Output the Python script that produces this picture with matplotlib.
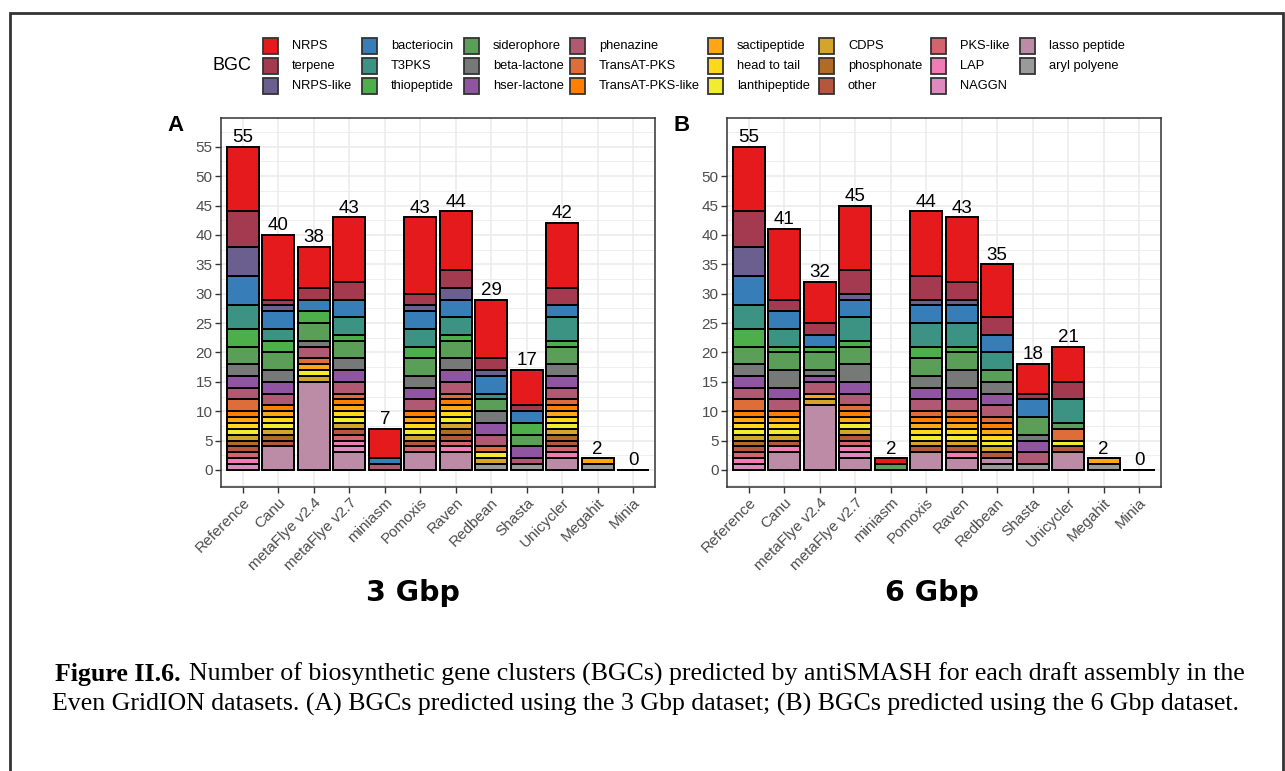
import matplotlib
matplotlib.use("Agg")
import numpy as np
import matplotlib.pyplot as plt
from matplotlib.patches import Rectangle

# figure size in pixels (dpi 100)
W: int = 1285
H: int = 771

ASSEMBLERS = ["Reference", "Canu", "metaFlye v2.4", "metaFlye v2.7", "miniasm",
              "Pomoxis", "Raven", "Redbean", "Shasta", "Unicycler", "Megahit", "Minia"]

# legend order; the first one sits on top of each stack
BGC_TYPES = ["NRPS", "terpene", "NRPS-like", "bacteriocin", "T3PKS", "thiopeptide",
             "siderophore", "beta-lactone", "hser-lactone", "phenazine", "TransAT-PKS",
             "TransAT-PKS-like", "sactipeptide", "head to tail", "lanthipeptide", "CDPS",
             "phosphonate", "other", "PKS-like", "LAP", "NAGGN", "lasso peptide",
             "aryl polyene"]
BGC_COLORS = ["#E41A1C", "#A33A50", "#6A5F8E", "#377EB8", "#3C9383", "#4DAF4A",
              "#5B9E57", "#777979", "#8F55A0", "#B15873", "#DF6D3A",
              "#FF7F00", "#FFA615", "#FFD81A", "#F2EC2E", "#D3A62B",
              "#B06C25", "#B5573F", "#D1646F", "#F17CB5", "#DD8ABE", "#BC8CA6",
              "#9A9A9A"]

# 3 Gbp dataset, one value per assembler
NRPS_3 = [11, 11, 7, 11, 5, 13, 10, 10, 6, 11, 0, 0]
TERPENE_3 = [6, 1, 2, 3, 0, 2, 3, 2, 1, 3, 0, 0]
NRPS_LIKE_3 = [5, 1, 0, 0, 0, 1, 2, 1, 0, 0, 0, 0]
BACTERIOCIN_3 = [5, 3, 2, 3, 1, 3, 3, 3, 2, 2, 0, 0]
T3PKS_3 = [4, 2, 0, 3, 0, 3, 3, 1, 0, 4, 0, 0]
THIOPEPTIDE_3 = [3, 2, 2, 1, 0, 2, 1, 0, 2, 1, 0, 0]
SIDEROPHORE_3 = [3, 3, 3, 3, 0, 3, 3, 2, 2, 3, 0, 0]
BETA_LACTONE_3 = [2, 2, 1, 2, 0, 2, 2, 2, 0, 2, 0, 0]
HSER_LACTONE_3 = [2, 2, 0, 2, 0, 2, 2, 2, 2, 2, 0, 0]
PHENAZINE_3 = [2, 2, 2, 2, 1, 2, 2, 2, 1, 2, 0, 0]
TRANSAT_PKS_3 = [2, 0, 1, 1, 0, 0, 1, 1, 0, 1, 0, 0]
TRANSAT_PKS_LIKE_3 = [1, 1, 0, 1, 0, 1, 1, 0, 0, 1, 0, 0]
SACTIPEPTIDE_3 = [1, 1, 1, 1, 0, 1, 1, 0, 0, 1, 1, 0]
HEAD_TO_TAIL_3 = [1, 1, 0, 1, 0, 1, 1, 0, 0, 1, 0, 0]
LANTHIPEPTIDE_3 = [1, 1, 1, 1, 0, 1, 1, 1, 0, 1, 0, 0]
CDPS_3 = [1, 1, 1, 1, 0, 1, 1, 1, 0, 1, 0, 0]
PHOSPHONATE_3 = [1, 1, 0, 0, 0, 0, 1, 0, 0, 1, 0, 0]
OTHER_3 = [1, 1, 0, 1, 0, 1, 1, 0, 0, 1, 0, 0]
PKS_LIKE_3 = [1, 0, 0, 1, 0, 1, 1, 0, 0, 1, 0, 0]
LAP_3 = [1, 0, 0, 1, 0, 0, 1, 0, 0, 1, 0, 0]
NAGGN_3 = [1, 0, 0, 1, 0, 0, 0, 0, 0, 0, 0, 0]
LASSO_3 = [0, 4, 15, 3, 0, 3, 3, 0, 0, 2, 0, 0]
ARYL_POLYENE_3 = [0, 0, 0, 0, 0, 0, 0, 1, 1, 0, 1, 0]

# 6 Gbp dataset
NRPS_6 = [11, 12, 7, 11, 1, 11, 11, 9, 5, 6, 0, 0]
TERPENE_6 = [6, 2, 2, 4, 0, 4, 3, 3, 1, 3, 0, 0]
NRPS_LIKE_6 = [5, 0, 0, 1, 0, 1, 1, 0, 0, 0, 0, 0]
BACTERIOCIN_6 = [5, 3, 2, 3, 0, 3, 3, 3, 3, 0, 0, 0]
T3PKS_6 = [4, 3, 0, 4, 0, 4, 4, 3, 0, 4, 0, 0]
THIOPEPTIDE_6 = [3, 1, 1, 1, 0, 2, 1, 0, 0, 0, 0, 0]
SIDEROPHORE_6 = [3, 3, 3, 3, 1, 3, 3, 2, 3, 1, 0, 0]
BETA_LACTONE_6 = [2, 3, 1, 3, 0, 2, 3, 2, 1, 0, 0, 0]
HSER_LACTONE_6 = [2, 2, 1, 2, 0, 2, 2, 2, 2, 0, 0, 0]
PHENAZINE_6 = [2, 2, 2, 2, 0, 2, 2, 2, 2, 0, 0, 0]
TRANSAT_PKS_6 = [2, 0, 0, 1, 0, 1, 1, 1, 0, 2, 0, 0]
TRANSAT_PKS_LIKE_6 = [1, 1, 0, 1, 0, 1, 1, 1, 0, 0, 0, 0]
SACTIPEPTIDE_6 = [1, 1, 1, 1, 0, 1, 1, 1, 0, 0, 1, 0]
HEAD_TO_TAIL_6 = [1, 1, 0, 0, 0, 1, 1, 1, 0, 0, 0, 0]
LANTHIPEPTIDE_6 = [1, 1, 0, 1, 0, 1, 1, 1, 0, 1, 0, 0]
CDPS_6 = [1, 1, 1, 1, 0, 1, 1, 1, 0, 0, 0, 0]
PHOSPHONATE_6 = [1, 0, 0, 0, 0, 0, 0, 0, 0, 0, 0, 0]
OTHER_6 = [1, 1, 0, 1, 0, 1, 1, 1, 0, 1, 0, 0]
PKS_LIKE_6 = [1, 0, 0, 1, 0, 0, 0, 0, 0, 0, 0, 0]
LAP_6 = [1, 1, 0, 1, 0, 0, 1, 0, 0, 0, 0, 0]
NAGGN_6 = [1, 0, 0, 1, 0, 0, 0, 0, 0, 0, 0, 0]
LASSO_6 = [0, 3, 11, 2, 0, 3, 2, 1, 0, 3, 0, 0]
ARYL_POLYENE_6 = [0, 0, 0, 0, 0, 0, 0, 1, 1, 0, 1, 0]

COUNTS_3 = [NRPS_3, TERPENE_3, NRPS_LIKE_3, BACTERIOCIN_3, T3PKS_3, THIOPEPTIDE_3,
            SIDEROPHORE_3, BETA_LACTONE_3, HSER_LACTONE_3, PHENAZINE_3, TRANSAT_PKS_3,
            TRANSAT_PKS_LIKE_3, SACTIPEPTIDE_3, HEAD_TO_TAIL_3, LANTHIPEPTIDE_3, CDPS_3,
            PHOSPHONATE_3, OTHER_3, PKS_LIKE_3, LAP_3, NAGGN_3, LASSO_3, ARYL_POLYENE_3]
COUNTS_6 = [NRPS_6, TERPENE_6, NRPS_LIKE_6, BACTERIOCIN_6, T3PKS_6, THIOPEPTIDE_6,
            SIDEROPHORE_6, BETA_LACTONE_6, HSER_LACTONE_6, PHENAZINE_6, TRANSAT_PKS_6,
            TRANSAT_PKS_LIKE_6, SACTIPEPTIDE_6, HEAD_TO_TAIL_6, LANTHIPEPTIDE_6, CDPS_6,
            PHOSPHONATE_6, OTHER_6, PKS_LIKE_6, LAP_6, NAGGN_6, LASSO_6, ARYL_POLYENE_6]

CAPTION_BOLD = "Figure II.6."
CAPTION_1 = ("Number of biosynthetic gene clusters (BGCs) predicted by antiSMASH for each "
             "draft assembly in the")
CAPTION_2 = ("Even GridION datasets. (A) BGCs predicted using the 3 Gbp dataset; "
             "(B) BGCs predicted using the 6 Gbp dataset.")

plt.rcParams["font.family"] = ["Liberation Sans", "DejaVu Sans"]


def px(x, y):
    # pixel position (from top-left) to figure fraction
    return x / W, 1 - y / H


def draw_panel(ax, counts, yticks, letter):
    x = np.arange(len(ASSEMBLERS))
    bottom = np.zeros(len(ASSEMBLERS))
    # stack from the last legend entry upwards
    for color, values in reversed(list(zip(BGC_COLORS, counts))):
        ax.bar(x, values, width=0.9, bottom=bottom, color=color,
               edgecolor="black", linewidth=1.4, zorder=3)
        bottom = bottom + np.array(values)
    for xi, total in zip(x, bottom):
        ax.text(xi, total + 0.8, f"{int(total)}", ha="center", va="baseline",
                fontsize=13.5, color="black", zorder=4)
    ax.set_xlim(-0.62, len(ASSEMBLERS) - 0.38)
    ax.set_ylim(-2.9, 59.9)
    ax.set_xticks(x)
    ax.set_xticklabels(ASSEMBLERS, rotation=45, ha="right", rotation_mode="anchor")
    ax.set_yticks(yticks)
    ax.set_yticks(np.arange(-2.5, 60, 5), minor=True)
    ax.tick_params(which="major", length=4, width=1, color="#333333",
                   labelsize=11, labelcolor="#4D4D4D", pad=2)
    ax.tick_params(which="minor", length=0)
    ax.grid(which="major", color="#EBEBEB", linewidth=1.1)
    ax.grid(which="minor", axis="y", color="#EBEBEB", linewidth=0.6)
    ax.set_axisbelow(True)
    for spine in ax.spines.values():
        spine.set_color("#333333")
        spine.set_linewidth(1.1)
    ax.text(-0.105, 0.98, letter, transform=ax.transAxes, fontsize=16,
            fontweight="bold", ha="center", va="center")


fig = plt.figure(figsize=(W / 100, H / 100), dpi=100)

ax_a = fig.add_axes([221 / W, 1 - 487 / H, 434 / W, 369 / H])
draw_panel(ax_a, COUNTS_3, np.arange(0, 56, 5), "A")
ax_b = fig.add_axes([727 / W, 1 - 487 / H, 434 / W, 369 / H])
draw_panel(ax_b, COUNTS_6, np.arange(0, 51, 5), "B")

fig.text(*px(413, 593), "3 Gbp", family="DejaVu Sans", fontweight="bold",
         fontsize=20.5, ha="center", va="center")
fig.text(*px(932, 593), "6 Gbp", family="DejaVu Sans", fontweight="bold",
         fontsize=20.5, ha="center", va="center")

# legend: 8 columns, filled top to bottom
fig.text(*px(213, 66), "BGC", fontsize=13, ha="left", va="center")
key_cols = [263, 362, 464, 570, 708, 819, 931, 1020]
key_rows = [46, 66, 86]
for i, (name, color) in enumerate(zip(BGC_TYPES, BGC_COLORS)):
    col, row = divmod(i, 3)
    kx, ky = key_cols[col], key_rows[row]
    fig.add_artist(Rectangle(px(kx, ky + 7.5), 15 / W, 15 / H, transform=fig.transFigure,
                             facecolor=color, edgecolor="#333333", linewidth=1.3))
    fig.text(*px(kx + 29, ky), name, fontsize=9.3, ha="left", va="center")

# caption, the bold lead-in and the rest share one centred line
renderer = fig.canvas.get_renderer()
serif = ["Liberation Serif", "DejaVu Serif"]
cap_size = 18.6
bold = fig.text(0, 1 - 681 / H, CAPTION_BOLD, family=serif, fontweight="bold",
                fontsize=cap_size, va="baseline")
rest = fig.text(0, 1 - 681 / H, CAPTION_1, family=serif, fontsize=cap_size, va="baseline")
w_bold = bold.get_window_extent(renderer).width
w_rest = rest.get_window_extent(renderer).width
gap = cap_size * 1.389 * 0.3
start = 650 - (w_bold + gap + w_rest) / 2
bold.set_x(start / W)
rest.set_x((start + w_bold + gap) / W)
fig.text(646 / W, 1 - 711 / H, CAPTION_2, family=serif, fontsize=cap_size,
         ha="center", va="baseline")

# frame round the whole figure
fig.add_artist(Rectangle((10 / W, -0.1), 1273 / W, 0.1 + 1 - 13 / H,
                         transform=fig.transFigure, fill=False,
                         edgecolor="#333333", linewidth=2))

fig.savefig("out.png", dpi=100)
